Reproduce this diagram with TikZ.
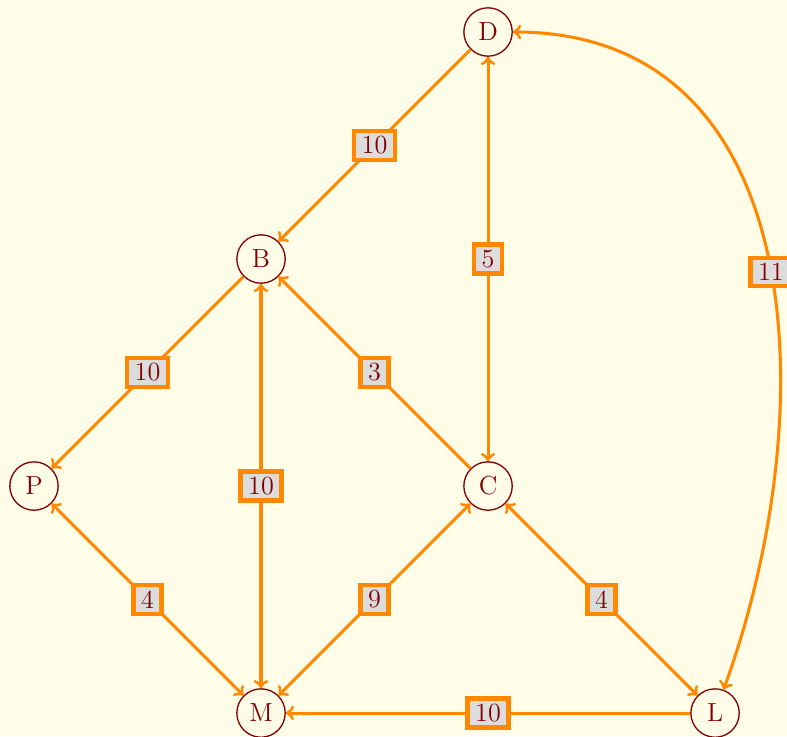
\documentclass[tikz,border=0pt]{standalone}
\usetikzlibrary{arrows.meta}

\definecolor{bgcream}{RGB}{255,252,232}
\definecolor{routeorange}{RGB}{255,136,0}
\definecolor{cityred}{RGB}{128,0,0}
\definecolor{boxgray}{RGB}{220,220,220}

\begin{document}
\begin{tikzpicture}[x=3.66cm, y=3.66cm, >=to,
		city/.style={circle, draw=cityred, semithick, text=cityred, font=\large, minimum size=0.78cm, inner sep=0pt},
		route/.style={routeorange, line width=1.4pt},
		weight/.style={draw=routeorange, line width=2pt, fill=boxgray, text=cityred, font=\large, inner xsep=3.5pt, inner ysep=2.5pt}]
		% Background
		\fill[bgcream] (-0.1498,-1.1013) rectangle (3.317,2.141);
		\useasboundingbox (-0.1498,-1.1013) rectangle (3.317,2.141);
		
		% Cities
		\node[city] (P) at (0,0) {P};
		\node[city] (B) at (1,1) {B};
		\node[city] (D) at (2,2) {D};
		\node[city] (C) at (2,0) {C};
		\node[city] (M) at (1,-1) {M};
		\node[city] (L) at (3,-1) {L};
		
		% Routes from D
		\draw[route, ->] (D) -- node[weight] {10} (B);
		\draw[route, <->] (D) -- node[weight] {5} (C);
		\draw[route, <->] (D) to[out=0, in=70, looseness=1.1] node[weight, pos=0.52] {11} (L);
		
		% Routes from B and C
		\draw[route, ->] (B) -- node[weight] {10} (P);
		\draw[route, <->] (B) -- node[weight] {10} (M);
		\draw[route, ->] (C) -- node[weight] {3} (B);
		\draw[route, <->] (C) -- node[weight] {4} (L);
		
		% Routes into M
		\draw[route, <->] (P) -- node[weight] {4} (M);
		\draw[route, <->] (M) -- node[weight] {9} (C);
		\draw[route, ->] (L) -- node[weight] {10} (M);
	\end{tikzpicture}
\end{document}
